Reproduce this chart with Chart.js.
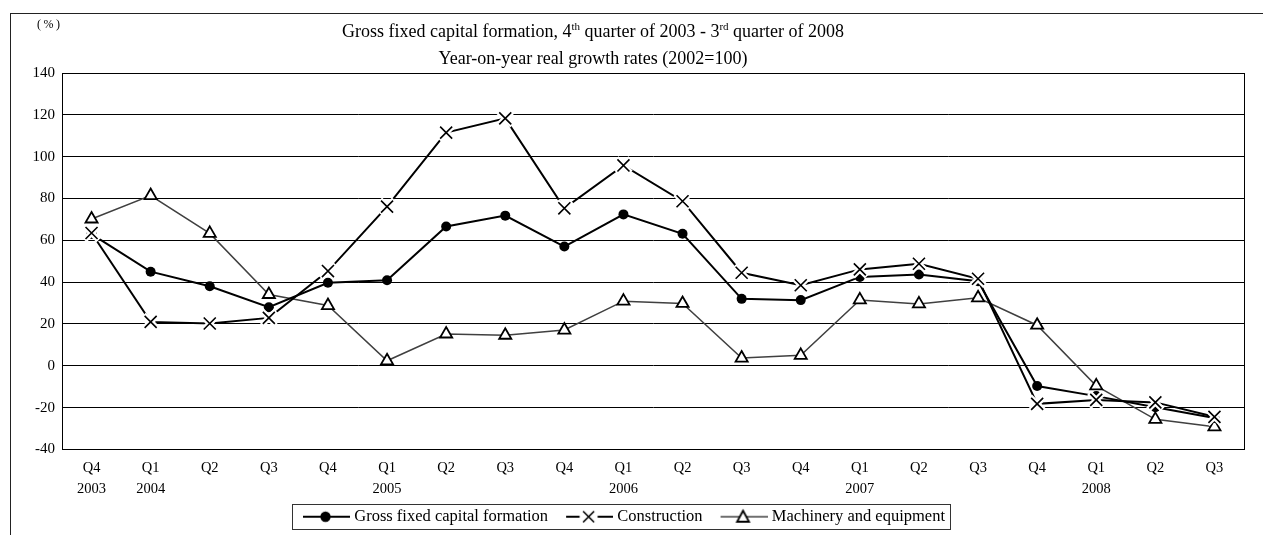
<!DOCTYPE html>
<html>
<head>
<meta charset="utf-8">
<script src="https://cdn.jsdelivr.net/npm/chart.js@4.4.1/dist/chart.umd.min.js"></script>
<style>
  html, body { margin: 0; padding: 0; background: #fff; }
  #wrap { position: relative; width: 1263px; height: 535px; overflow: hidden; font-family: "Liberation Serif", "Times New Roman", serif; }
  #frame { position: absolute; left: 10px; top: 13px; width: 1300px; height: 600px; border-left: 1px solid #222; border-top: 1px solid #222; box-sizing: border-box; }
  #title { position: absolute; left: 0; top: 18px; width: 1186px; text-align: center; font-size: 18px; line-height: 27px; color: #000; }
  #title sup { font-size: 11px; line-height: 0; vertical-align: 7px; }
  #unit { position: absolute; left: 37px; top: 17px; font-size: 12px; letter-spacing: 2.5px; color: #000; }
  canvas { position: absolute; left: 0; top: 0; }
</style>
</head>
<body>
<div id="wrap">
  <div id="frame"></div>
  <canvas id="c" width="1263" height="535"></canvas>
  <div id="title">Gross fixed capital formation, 4<sup>th</sup> quarter of 2003 - 3<sup>rd</sup> quarter of 2008<br>Year-on-year real growth rates (2002=100)</div>
  <div id="unit">(%)</div>
</div>
<script>
const quarters = ['Q4','Q1','Q2','Q3','Q4','Q1','Q2','Q3','Q4','Q1','Q2','Q3','Q4','Q1','Q2','Q3','Q4','Q1','Q2','Q3'];
const years = ['2003','2004','','','','2005','','','','2006','','','','2007','','','','2008','',''];
const gfcf = [63, 45, 38, 28, 39.7, 40.9, 66.6, 71.8, 57, 72.4, 63.1, 32, 31.4, 42.5, 43.7, 40.4, -9.7, -14.5, -19.8, -25];
const construction = [63.5, 21, 20.2, 22.9, 45.3, 76.1, 111.5, 118.3, 75.3, 95.8, 78.7, 44.5, 38.5, 46.1, 48.8, 41.6, -18.2, -16.3, -17.5, -24.4];
const machinery = [70.2, 81.4, 63.3, 34.1, 28.8, 2.4, 15.2, 14.6, 17.1, 30.9, 29.8, 3.7, 5, 31.5, 29.6, 32.5, 19.4, -9.6, -25.6, -29.2];
const seriesNames = ['Gross fixed capital formation', 'Construction', 'Machinery and equipment'];
const yTicks = { min: -40, max: 140, step: 20 };

const labels = quarters.map((q, i) => [q, years[i]]);
const FONT = '"Liberation Serif", "Times New Roman", serif';

// legend icon: line with marker (canvas image, drawn by the legend)
function legendIcon(kind) {
  const c = document.createElement('canvas');
  c.width = 69; c.height = 20;
  const g = c.getContext('2d');
  const x0 = 22, x1 = 69, cx = 44.5, cy = 10;
  g.lineWidth = kind === 'tri' ? 1.6 : 2;
  g.strokeStyle = kind === 'tri' ? '#404040' : '#000';
  g.beginPath(); g.moveTo(x0, cy); g.lineTo(x1, cy); g.stroke();
  if (kind === 'dot') {
    g.fillStyle = '#000'; g.beginPath(); g.arc(cx, cy, 5.2, 0, Math.PI * 2); g.fill();
  } else if (kind === 'x') {
    g.fillStyle = '#fff'; g.fillRect(cx - 9, 0, 18, 20);
    g.strokeStyle = '#000'; g.lineWidth = 1.6;
    g.beginPath(); g.moveTo(cx - 5.5, cy - 5.5); g.lineTo(cx + 5.5, cy + 5.5); g.moveTo(cx + 5.5, cy - 5.5); g.lineTo(cx - 5.5, cy + 5.5); g.stroke();
  } else {
    g.fillStyle = '#fff'; g.strokeStyle = '#000'; g.lineWidth = 1.8;
    g.beginPath(); g.moveTo(cx, cy - 6); g.lineTo(cx + 6, cy + 5); g.lineTo(cx - 6, cy + 5); g.closePath(); g.fill(); g.stroke();
  }
  return c;
}
const icons = [legendIcon('dot'), legendIcon('x'), legendIcon('tri')];

const boxPlugin = {
  id: 'boxPlugin',
  afterLayout(chart) {
    // nudge the legend block slightly left, as in the reference
    if (chart.legend) { chart.legend.left -= 7; chart.legend.right -= 7; }
  },
  afterDraw(chart) {
    const ctx = chart.ctx;
    const a = chart.chartArea;
    ctx.save();
    ctx.strokeStyle = '#000';
    ctx.lineWidth = 1;
    ctx.strokeRect(Math.round(a.left) + 0.5, Math.round(a.top) + 0.5, Math.round(a.right - a.left), Math.round(a.bottom - a.top));
    const hb = chart.legend && chart.legend.legendHitBoxes;
    if (hb && hb.length) {
      let l = Infinity, r = -Infinity, t = Infinity, b = -Infinity;
      hb.forEach(h => { l = Math.min(l, h.left); r = Math.max(r, h.left + h.width); t = Math.min(t, h.top); b = Math.max(b, h.top + h.height); });
      const cy = (t + b) / 2;
      ctx.strokeStyle = '#333';
      ctx.strokeRect(Math.round(l + 7) + 0.5, Math.round(cy - 12.5) + 0.5, Math.round(r + 5 - (l + 7)), 25);
    }
    ctx.restore();
  }
};

new Chart(document.getElementById('c'), {
  type: 'line',
  data: {
    labels: labels,
    datasets: [
      { label: seriesNames[0], data: gfcf, borderColor: '#000', borderWidth: 2, pointStyle: 'circle', pointRadius: 5, pointBackgroundColor: '#000', pointBorderColor: '#000', pointBorderWidth: 0, tension: 0, order: 4 },
      { label: seriesNames[2], data: machinery, borderColor: '#404040', borderWidth: 1.5, pointStyle: 'triangle', pointRadius: 7, pointBackgroundColor: '#fff', pointBorderColor: '#000', pointBorderWidth: 1.8, tension: 0, order: 5 },
      { label: seriesNames[1], data: construction, borderColor: '#000', borderWidth: 2, pointRadius: 0, tension: 0, order: 3 },
      { label: 'halo', data: construction, showLine: false, pointStyle: 'crossRot', pointRadius: 10, pointBorderColor: '#fff', pointBorderWidth: 6, order: 2 },
      { label: 'marks', data: construction, showLine: false, pointStyle: 'crossRot', pointRadius: 8.5, pointBorderColor: '#000', pointBorderWidth: 1.6, order: 1 }
    ]
  },
  options: {
    responsive: false,
    animation: false,
    events: [],
    layout: { padding: { top: 73, right: 19, left: 0, bottom: 0 } },
    plugins: {
      title: { display: false },
      tooltip: { enabled: false },
      legend: {
        position: 'bottom',
        labels: {
          usePointStyle: true,
          pointStyleWidth: 61,
          boxHeight: 16,
          padding: 0,
          color: '#000',
          font: { family: FONT, size: 16.5 },
          generateLabels: () => seriesNames.map((n, i) => ({ text: n, pointStyle: icons[i], datasetIndex: i, fillStyle: '#fff', strokeStyle: '#000', lineWidth: 0, hidden: false, fontColor: '#000' }))
        }
      }
    },
    scales: {
      x: {
        offset: true,
        grid: { display: false, drawTicks: false },
        border: { display: true, color: '#000', width: 1 },
        ticks: { color: '#000', font: { family: FONT, size: 14.5, lineHeight: 1.45 }, padding: 8.5, maxRotation: 0, autoSkip: false }
      },
      y: {
        min: yTicks.min, max: yTicks.max,
        afterFit(scale) { scale.width = 62; },
        grid: { color: '#000', lineWidth: 1, drawTicks: false },
        border: { display: true, color: '#000', width: 1 },
        ticks: { stepSize: yTicks.step, color: '#000', font: { family: FONT, size: 15 }, padding: 7 }
      }
    }
  },
  plugins: [boxPlugin]
});
</script>
</body>
</html>
